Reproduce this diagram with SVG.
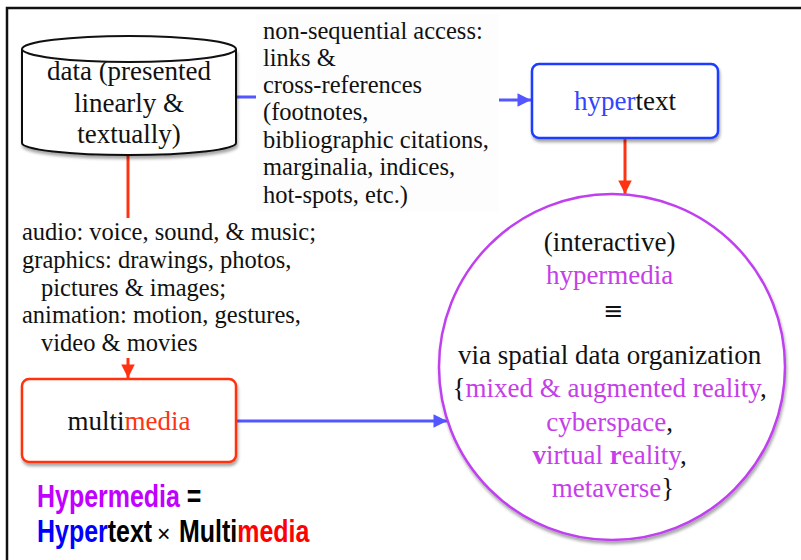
<svg xmlns="http://www.w3.org/2000/svg" width="801" height="560" viewBox="0 0 801 560">
<defs>
<filter id="sh" x="-10%" y="-10%" width="120%" height="130%">
<feDropShadow dx="1" dy="3" stdDeviation="1.8" flood-color="#000" flood-opacity="0.35"/>
</filter>
<marker id="ab" viewBox="0 0 10 10" refX="10" refY="5" markerWidth="6" markerHeight="4.5" markerUnits="strokeWidth" orient="auto">
<path d="M0,0 L10,5 L0,10 Z" fill="#5457ff"/>
</marker>
<marker id="ar" viewBox="0 0 10 10" refX="10" refY="5" markerWidth="6" markerHeight="4.5" markerUnits="strokeWidth" orient="auto">
<path d="M0,0 L10,5 L0,10 Z" fill="#ff3311"/>
</marker>
<style>
.pal{font-family:"Liberation Serif","DejaVu Serif",serif;font-size:27px;fill:#111}
.tm{font-family:"Liberation Serif",serif;font-size:24.5px;fill:#111}
.blu{stroke:#5457ff;stroke-width:3;fill:none}
.red{stroke:#ff3311;stroke-width:3;fill:none}
.pu{fill:#c63ee8}
.bb{font-family:"Liberation Sans",Arial,sans-serif;font-weight:bold;font-size:32px}
</style>
</defs>
<rect width="801" height="560" fill="#fff"/>
<path d="M7,560 V8 H801" fill="none" stroke="#111" stroke-width="2.5"/>

<g id="connectors">
<path class="blu" d="M237,97 H300"/>
<path class="blu" d="M470,100 H531" marker-end="url(#ab)"/>
<path class="red" d="M625,139 V194" marker-end="url(#ar)"/>
<path class="red" d="M128,156 V378" marker-end="url(#ar)"/>
<path class="blu" d="M237,421 H447" marker-end="url(#ab)"/>
</g>

<g id="data">
<path d="M22,49 V143 A107,12 0 0 0 236,143 V49" fill="#fff" stroke="#111" stroke-width="2" filter="url(#sh)"/>
<ellipse cx="129" cy="49" rx="107" ry="13" fill="#fff" stroke="#111" stroke-width="2"/>
<text class="pal" text-anchor="middle"><tspan x="129" y="80">data (presented</tspan><tspan x="129" y="112">linearly &amp;</tspan><tspan x="129" y="143">textually)</tspan></text>
</g>

<g id="label-nonseq">
<rect x="256" y="14" width="243" height="198" fill="#fdfdfd"/>
<text class="tm"><tspan x="263" y="39">non-sequential access:</tspan><tspan x="263" y="66">links &amp;</tspan><tspan x="263" y="93">cross-references</tspan><tspan x="263" y="120">(footnotes,</tspan><tspan x="263" y="148">bibliographic citations,</tspan><tspan x="263" y="175">marginalia, indices,</tspan><tspan x="263" y="203">hot-spots, etc.)</tspan></text>
</g>

<g id="label-media">
<rect x="16" y="218" width="306" height="140" fill="#fff"/>
<text class="tm"><tspan x="22" y="240">audio: voice, sound, &amp; music;</tspan><tspan x="22" y="268">graphics: drawings, photos,</tspan><tspan x="41" y="296">pictures &amp; images;</tspan><tspan x="22" y="323">animation: motion, gestures,</tspan><tspan x="41" y="351">video &amp; movies</tspan></text>
</g>

<g id="hypertext">
<rect x="532" y="64" width="186" height="74" rx="7" fill="#fff" stroke="#1a3cff" stroke-width="2.5" filter="url(#sh)"/>
<text class="pal" x="625" y="110" text-anchor="middle"><tspan fill="#3344ff">hyper</tspan>text</text>
</g>

<g id="multimedia">
<rect x="22" y="379" width="214" height="83" rx="7" fill="#fff" stroke="#ff3311" stroke-width="2.5" filter="url(#sh)"/>
<text class="pal" x="129" y="430" text-anchor="middle">multi<tspan fill="#ff3311">media</tspan></text>
</g>

<g id="hypermedia">
<circle cx="612" cy="367" r="173" fill="#fff" stroke="#c040f0" stroke-width="2.5" filter="url(#sh)"/>
<text class="pal" text-anchor="middle">
<tspan x="613" y="251">(interactive)</tspan>
<tspan x="613" y="284" class="pu">hypermedia</tspan>
<tspan x="613" y="364">via spatial data organization</tspan>
<tspan x="613" y="397">{<tspan class="pu">mixed &amp; augmented reality</tspan>,</tspan>
<tspan x="613" y="431"><tspan class="pu">cyberspace</tspan>,</tspan>
<tspan x="613" y="464"><tspan class="pu"><tspan font-weight="bold">v</tspan>irtual <tspan font-weight="bold">r</tspan>eality</tspan>,</tspan>
<tspan x="613" y="497"><tspan class="pu">metaverse</tspan>}</tspan>
</text>
<text x="613" y="319" text-anchor="middle" font-family="DejaVu Sans,sans-serif" font-size="24" fill="#111">≡</text>
</g>

<g id="formula">
<text class="bb" transform="translate(37,507) scale(0.78,1)"><tspan fill="#c100ff">Hypermedia</tspan><tspan fill="#000"> =</tspan></text>
<text class="bb" transform="translate(37,542) scale(0.78,1)"><tspan fill="#0000ff">Hyper</tspan><tspan fill="#000">text</tspan></text>
<text x="157" y="542" font-family="Liberation Sans,Arial,sans-serif" font-size="23" fill="#000">×</text>
<text class="bb" transform="translate(179,542) scale(0.78,1)"><tspan fill="#000">Multi</tspan><tspan fill="#ff0000">media</tspan></text>
</g>
</svg>
